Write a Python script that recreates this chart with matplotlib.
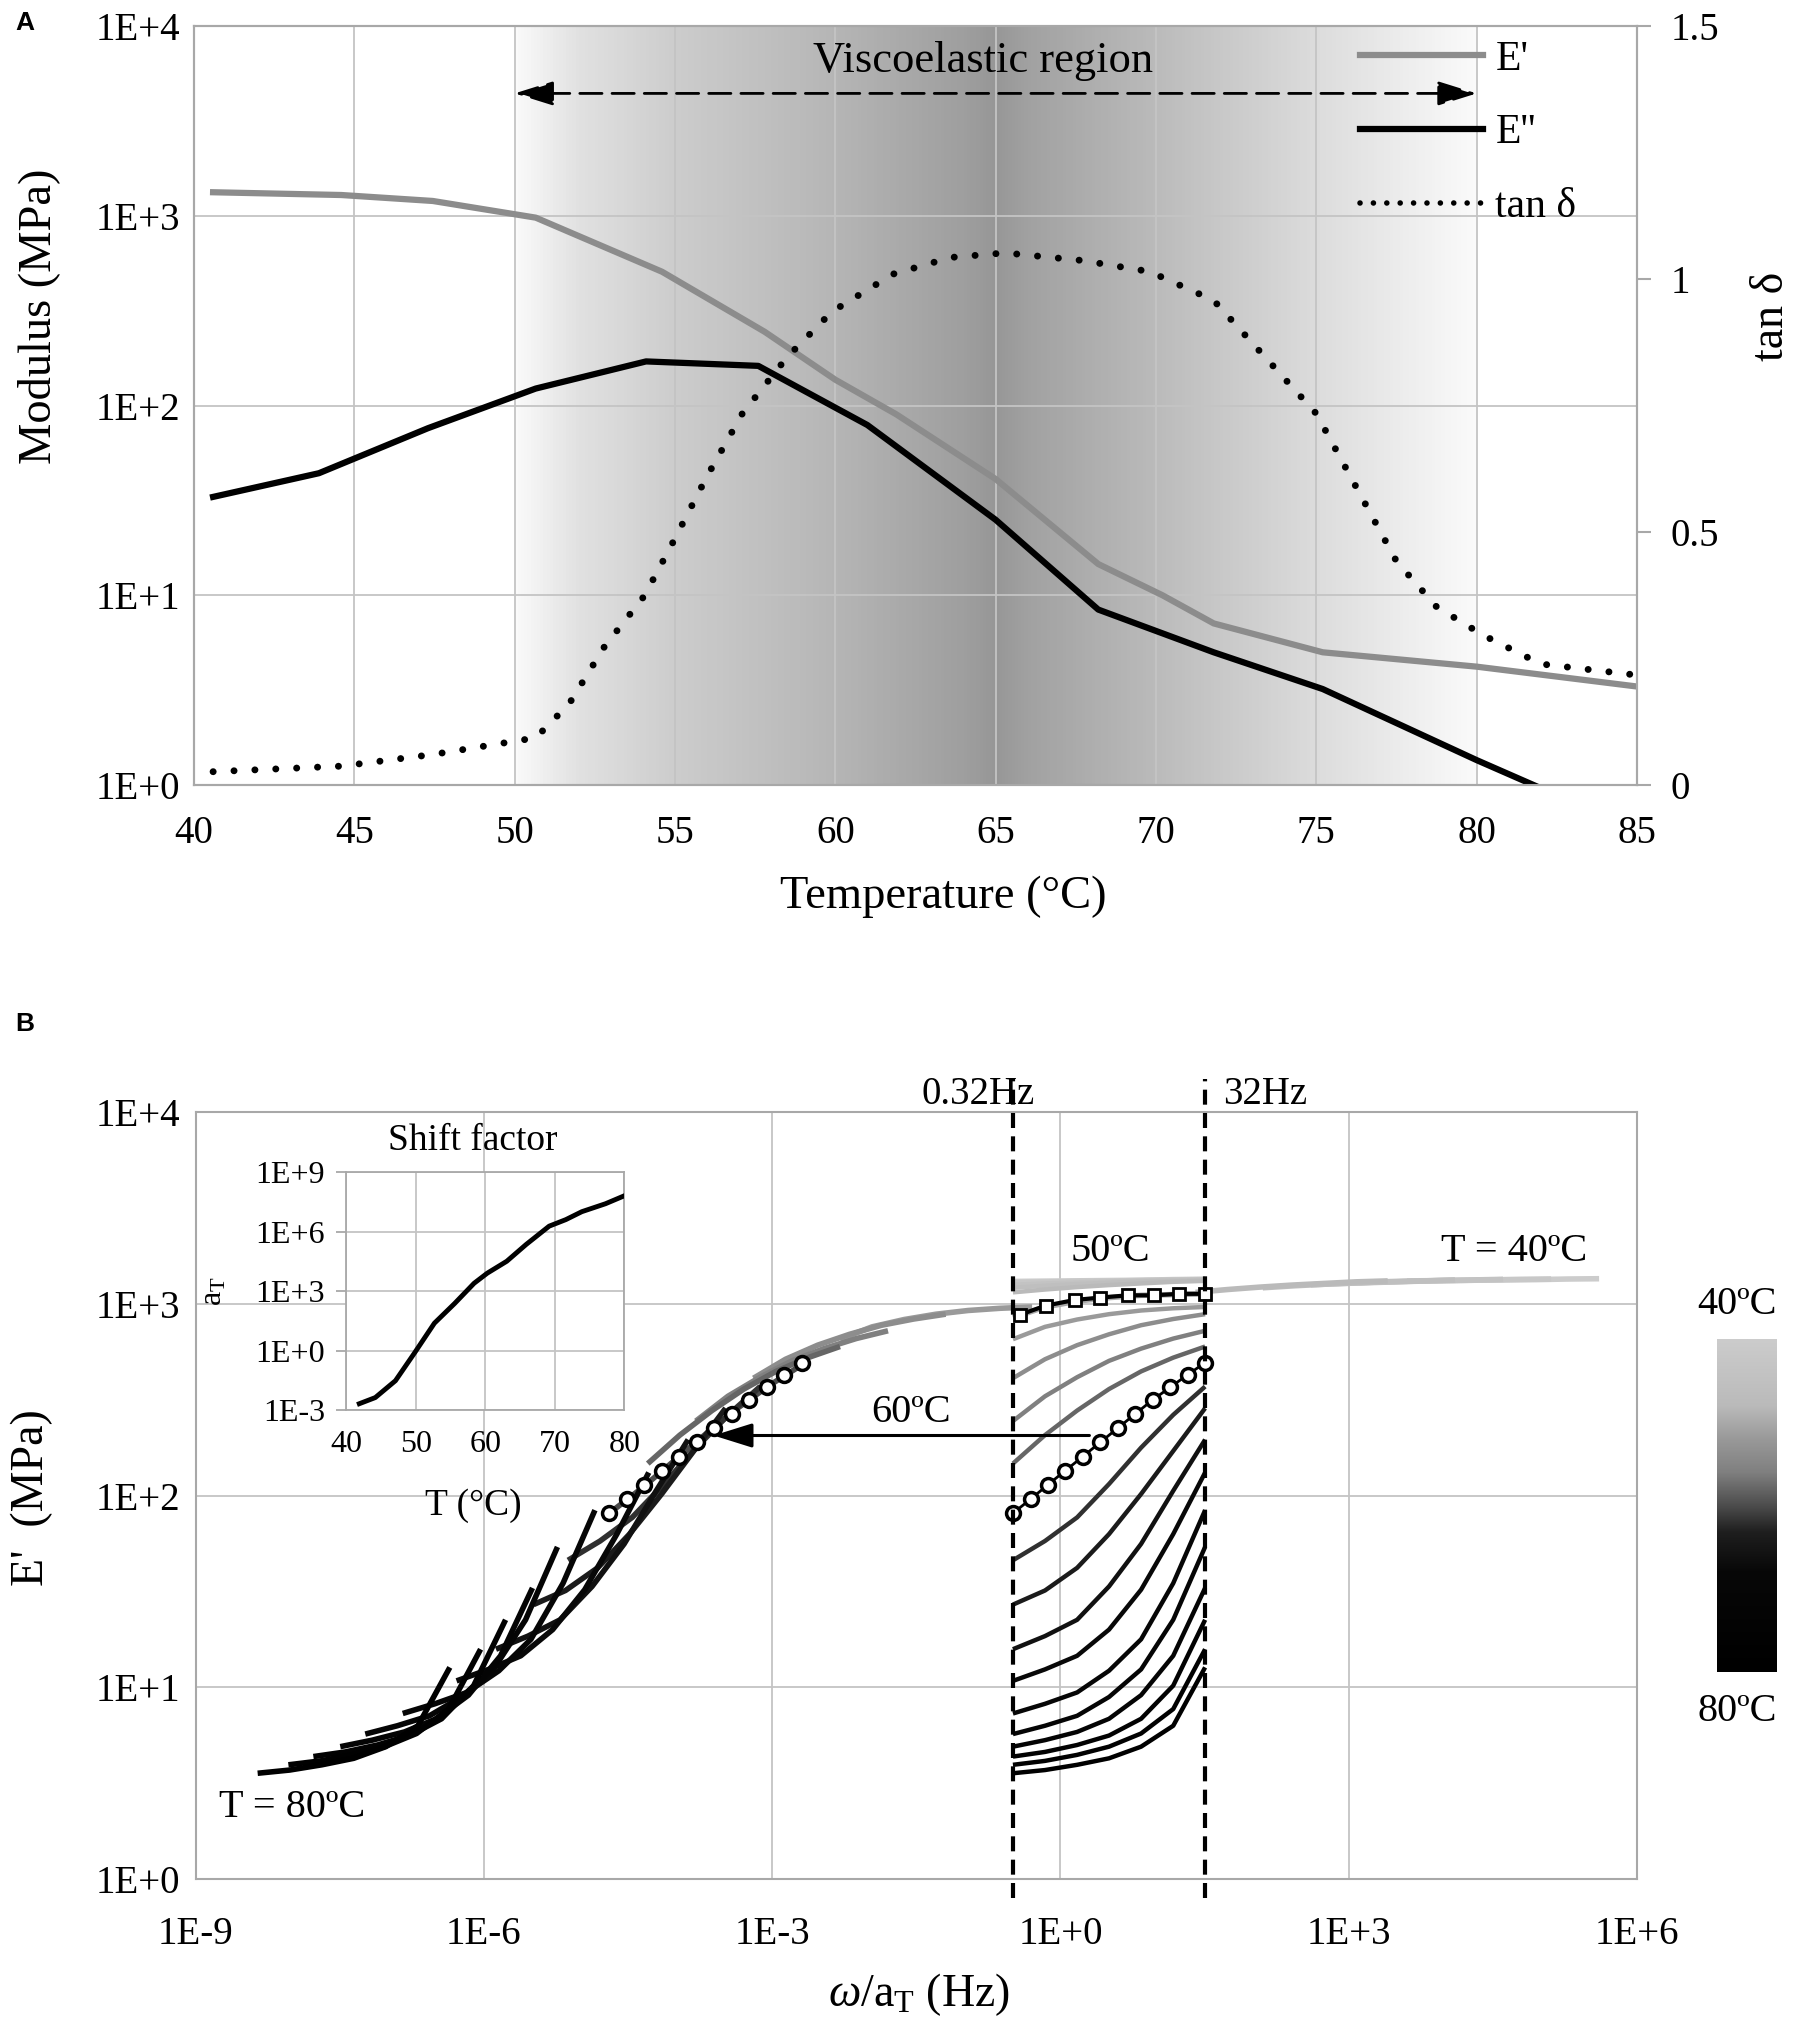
import numpy as np
import matplotlib
matplotlib.use('Agg')
import matplotlib.pyplot as plt
from matplotlib.colors import LinearSegmentedColormap
from matplotlib.lines import Line2D
from matplotlib.ticker import NullLocator

plt.rcParams['font.family'] = ['Liberation Serif', 'DejaVu Serif']
plt.rcParams['mathtext.fontset'] = 'custom'
plt.rcParams['mathtext.rm'] = 'Liberation Serif'
plt.rcParams['mathtext.it'] = 'Liberation Serif:italic'

# ---------------- Panel A data (DMA temperature sweep) ----------------
T_STORAGE = [40.6, 44.6, 47.45, 50.66, 54.6, 57.8, 60.0, 61.9, 65.0, 68.2, 70.2, 71.8, 75.2, 80.0, 85.0]
E_STORAGE = [1334, 1290, 1200, 980, 508, 245, 137, 90, 41, 14.6, 10.0, 7.1, 5.0, 4.2, 3.3]

T_LOSS = [40.6, 43.9, 47.3, 50.66, 54.1, 57.6, 61.0, 65.0, 68.2, 71.8, 75.2, 80.0, 82.0]
E_LOSS = [33, 44, 76, 123, 171, 162, 79, 25, 8.4, 5.0, 3.2, 1.35, 0.96]

T_TAN = [40.6, 44.6, 47.45, 50.66, 51.7, 52.8, 54.05, 54.9, 56.0, 57.1, 58.5, 59.9, 61.8,
         63.6, 65.3, 67.7, 69.8, 71.8, 73.4, 75.0, 76.25, 77.5, 78.75, 80.2, 82.0, 85.0]
TAN_DELTA = [0.026, 0.037, 0.06, 0.093, 0.16, 0.273, 0.374, 0.475, 0.61, 0.734, 0.846, 0.936, 1.01,
             1.043, 1.052, 1.037, 1.015, 0.958, 0.846, 0.734, 0.588, 0.442, 0.352, 0.296, 0.239, 0.217]

# shading of the viscoelastic region (temperature, gray level)
GRAD_T = [50, 52, 55, 60, 64, 65, 66, 70, 75, 80]
GRAD_GRAY = [0.98, 0.88, 0.80, 0.71, 0.62, 0.59, 0.63, 0.73, 0.86, 0.98]

# ---------------- Panel B data (frequency sweeps) ----------------
ISO_TEMPS = [40, 42, 44, 46, 48, 50, 52, 54, 56, 58, 60, 62, 64, 66, 68, 70, 72, 74, 76, 78, 80]
ISO_FREQ = [0.32, 0.69, 1.49, 3.2, 6.9, 14.9, 32]
ISO_E = [
    [1320, 1325, 1330, 1335, 1340, 1350, 1355],
    [1295, 1305, 1320, 1325, 1335, 1345, 1350],
    [1260, 1280, 1295, 1310, 1325, 1335, 1345],
    [1215, 1245, 1270, 1290, 1310, 1320, 1335],
    [1150, 1190, 1225, 1255, 1280, 1305, 1320],
    [850, 965, 1035, 1080, 1110, 1120, 1130],
    [655, 760, 830, 885, 925, 950, 965],
    [410, 515, 610, 695, 775, 835, 885],
    [245, 330, 415, 505, 585, 660, 725],
    [147, 207, 278, 360, 445, 525, 600],
    [81, 109, 151, 209, 286, 377, 480],
    [46, 58, 77, 115, 178, 264, 371],
    [27, 32, 42, 63, 102, 171, 286],
    [15.8, 18.5, 22.5, 33.6, 56, 106, 196],
    [10.8, 12.4, 14.6, 20.0, 32.3, 63, 132],
    [7.3, 8.2, 9.4, 12.2, 17.8, 34.9, 84],
    [5.7, 6.3, 7.1, 8.9, 12.4, 22.5, 54],
    [4.9, 5.3, 5.85, 6.85, 9.1, 14.6, 33],
    [4.35, 4.6, 5.0, 5.6, 6.85, 10.2, 22.5],
    [3.94, 4.13, 4.44, 4.9, 5.74, 7.7, 15.8],
    [3.56, 3.7, 3.94, 4.26, 4.9, 6.3, 12.7],
]
# log10 of the shift factor used to build the master curve
LOG_AT = [-4.1, -3.6, -3.1, -2.6, -1.9, 0.0, 1.8, 2.7, 3.3, 3.8, 4.2,
          4.63, 4.99, 5.38, 5.79, 6.35, 6.74, 7.0, 7.28, 7.54, 7.86]

# 50 C sweep (square markers) and 60 C sweep (circle markers)
SQ_FREQ = [0.38, 0.70, 1.41, 2.6, 5.0, 9.3, 17.3, 32]
SQ_E = [880, 980, 1050, 1080, 1110, 1110, 1130, 1130]
CIRC_FREQ = [0.32, 0.49, 0.74, 1.12, 1.71, 2.6, 3.94, 6.0, 9.1, 13.9, 21, 32]
CIRC_E = [81, 96, 114, 135, 160, 190, 225, 267, 316, 368, 427, 494]

# inset: shift factor vs temperature
INSET_T = [41.9, 44.2, 47.1, 49.9, 52.7, 55.6, 58.4, 60.3, 63.1, 65.9, 69.2, 71.6, 73.9, 77.3, 80.0]
INSET_LOG_AT = [-2.68, -2.37, -1.52, -0.09, 1.38, 2.37, 3.39, 3.9, 4.5, 5.35, 6.27, 6.6, 7.0, 7.4, 7.8]

CMAP = LinearSegmentedColormap.from_list(
    'temps', [(0.0, (0.80,) * 3), (0.2, (0.73,) * 3), (0.3, (0.60,) * 3), (0.4, (0.50,) * 3),
              (0.5, (0.30,) * 3), (0.58, (0.12,) * 3), (0.7, (0.03,) * 3), (1.0, (0.0,) * 3)])

GRID_C = '#c4c4c4'
SPINE_C = '#a8a8a8'

fig = plt.figure(figsize=(17.95, 20.28), dpi=100)

# ======================= Panel A =======================
axA = fig.add_axes([0.108, 0.613, 0.804, 0.374])
axA.set_xlim(40, 85)
axA.set_yscale('log')
axA.set_ylim(1, 1e4)

edges = np.linspace(50, 80, 301)
mids = 0.5 * (edges[:-1] + edges[1:])
shade = np.interp(mids, GRAD_T, GRAD_GRAY)[None, :]
axA.pcolormesh(edges, [1, 1e4], shade, cmap='gray', vmin=0, vmax=1,
               shading='flat', zorder=0.1, rasterized=True)

axA.set_xticks(range(40, 90, 5))
axA.set_yticks([1, 10, 100, 1000, 10000])
axA.set_yticklabels(['1E+0', '1E+1', '1E+2', '1E+3', '1E+4'])
axA.yaxis.set_minor_locator(NullLocator())
axA.tick_params(axis='both', length=0, labelsize=28)
axA.tick_params(axis='x', pad=22)
axA.tick_params(axis='y', pad=10)
axA.grid(True, color=GRID_C, lw=1.3)
for s in axA.spines.values():
    s.set_color(SPINE_C)
    s.set_linewidth(1.5)

axA.plot(T_STORAGE, E_STORAGE, color='#8c8c8c', lw=4.5, zorder=3)
axA.plot(T_LOSS, E_LOSS, color='k', lw=4.5, zorder=3)

axA.annotate('', xy=(50, 4430), xytext=(80, 4430),
             arrowprops=dict(arrowstyle='<|-|>, head_length=0.8, head_width=0.25',
                             color='k', lw=2, linestyle=(0, (8, 3.6)),
                             mutation_scale=30, shrinkA=0, shrinkB=0), zorder=4)
axA.text(64.6, 6600, 'Viscoelastic region', fontsize=32, ha='center', va='center', zorder=4)

ax2 = axA.twinx()
ax2.set_ylim(0, 1.5)
ax2.set_yticks([0, 0.5, 1, 1.5])
ax2.set_yticklabels(['0', '0.5', '1', '1.5'])
ax2.tick_params(axis='y', length=10, width=1.5, color=SPINE_C, labelsize=28, pad=14)
for s in ax2.spines.values():
    s.set_color(SPINE_C)
    s.set_linewidth(1.5)
ax2.plot(T_TAN, TAN_DELTA, color='k', lw=5, ls=(0, (0.01, 3)), dash_capstyle='round', zorder=3)

handles = [Line2D([], [], color='#8c8c8c', lw=4.5),
           Line2D([], [], color='k', lw=4.5),
           Line2D([], [], color='k', lw=4, ls=(0, (0.01, 2.4)), dash_capstyle='round')]
ax2.legend(handles, ["E'", "E''", 'tan δ'], loc='upper left', bbox_to_anchor=(0.808, 0.982),
           frameon=False, fontsize=30, handlelength=2.95, handletextpad=0.3,
           labelspacing=0.85, borderpad=0, borderaxespad=0)

fig.text(0.0084, 0.9887, 'A', family='Liberation Sans', weight='bold', fontsize=19, va='center')
fig.text(0.0217, 0.8442, 'Modulus (MPa)', rotation=90, fontsize=33.5, ha='center', va='center')
fig.text(0.5253, 0.5577, 'Temperature (°C)', fontsize=33.5, ha='center', va='center')
fig.text(0.9872, 0.8442, 'tan δ', rotation=90, fontsize=33, ha='center', va='center')

# ======================= Panel B =======================
axB = fig.add_axes([0.109, 0.0735, 0.803, 0.378])
axB.set_xscale('log')
axB.set_yscale('log')
axB.set_xlim(1e-9, 1e6)
axB.set_ylim(1, 1e4)
axB.set_xticks([1e-9, 1e-6, 1e-3, 1, 1e3, 1e6])
axB.set_xticklabels(['1E-9', '1E-6', '1E-3', '1E+0', '1E+3', '1E+6'])
axB.set_yticks([1, 10, 100, 1000, 10000])
axB.set_yticklabels(['1E+0', '1E+1', '1E+2', '1E+3', '1E+4'])
axB.xaxis.set_minor_locator(NullLocator())
axB.yaxis.set_minor_locator(NullLocator())
axB.tick_params(axis='both', length=0, labelsize=28)
axB.tick_params(axis='x', pad=27)
axB.tick_params(axis='y', pad=11)
axB.grid(True, color=GRID_C, lw=1.3)
for s in axB.spines.values():
    s.set_color(SPINE_C)
    s.set_linewidth(1.5)

freq = np.array(ISO_FREQ)
for T, row, lat in zip(ISO_TEMPS, ISO_E, LOG_AT):
    c = CMAP((T - 40) / 40)
    # master curve segment (shifted)
    axB.plot(freq / 10 ** lat, row, color=c, lw=4, solid_capstyle='butt', zorder=3)
    # measured sweep inside the test window
    if T not in (50, 60):
        axB.plot(freq, row, color=c, lw=3.2, solid_capstyle='butt', zorder=3)

lat60 = LOG_AT[ISO_TEMPS.index(60)]
axB.plot(SQ_FREQ, SQ_E, color='k', lw=3, marker='s', ms=9, mfc='white', mec='k', mew=2, zorder=5)
axB.plot(CIRC_FREQ, CIRC_E, color='k', lw=2, marker='o', ms=10, mfc='white', mec='k', mew=2.5, zorder=5)
axB.plot(np.array(CIRC_FREQ) / 10 ** lat60, CIRC_E, ls='none', marker='o', ms=10,
         mfc='white', mec='k', mew=2.5, zorder=5)

for fx in (0.32, 32):
    axB.plot([fx, fx], [0.8, 1.5e4], color='k', lw=3, ls=(0, (3.6, 2)), clip_on=False, zorder=6)

axB.annotate('', xy=(2.45e-4, 206), xytext=(2.0, 206),
             arrowprops=dict(arrowstyle='-|>, head_length=0.8, head_width=0.25',
                             color='k', lw=2.2, mutation_scale=30, shrinkA=0, shrinkB=0), zorder=4)

axB.text(0.14, 12400, '0.32Hz', fontsize=28, ha='center', va='center')
axB.text(135, 12400, '32Hz', fontsize=28, ha='center', va='center')
axB.text(3.3, 1870, '50ºC', fontsize=29, ha='center', va='center')
axB.text(5.2e4, 1870, 'T = 40ºC', fontsize=29, ha='center', va='center')
axB.text(0.028, 270, '60ºC', fontsize=29, ha='center', va='center')
axB.text(1e-8, 2.36, 'T = 80ºC', fontsize=29, ha='center', va='center')

fig.text(0.0084, 0.495, 'B', family='Liberation Sans', weight='bold', fontsize=19, va='center')
fig.text(0.0178, 0.2613, "E'  (MPa)", rotation=90, fontsize=33, ha='center', va='center')
fig.text(0.512, 0.0163, r'$\omega$/a$_\mathrm{T}$ (Hz)', fontsize=33, ha='center', va='center')

# inset: shift factor
axI = fig.add_axes([0.1928, 0.3047, 0.155, 0.1174])
axI.set_facecolor('white')
axI.set_yscale('log')
axI.set_xlim(40, 80)
axI.set_ylim(1e-3, 1e9)
axI.set_xticks([40, 50, 60, 70, 80])
axI.set_yticks([1e-3, 1, 1e3, 1e6, 1e9])
axI.set_yticklabels(['1E-3', '1E+0', '1E+3', '1E+6', '1E+9'])
axI.yaxis.set_minor_locator(NullLocator())
axI.tick_params(axis='y', length=7, width=1.3, color=SPINE_C, labelsize=23, pad=8)
axI.tick_params(axis='x', length=0, labelsize=23, pad=14)
axI.grid(True, color=GRID_C, lw=1.3)
for s in axI.spines.values():
    s.set_color(SPINE_C)
    s.set_linewidth(1.3)
axI.plot(INSET_T, 10 ** np.array(INSET_LOG_AT), color='k', lw=3.5, zorder=3)
fig.text(0.2635, 0.4374, 'Shift factor', fontsize=27, ha='center', va='center')
fig.text(0.2635, 0.2574, 'T (°C)', fontsize=27, ha='center', va='center')
fig.text(0.1192, 0.3634, r'a$_\mathrm{T}$', rotation=90, fontsize=23, ha='center', va='center')

# temperature colour bar
axC = fig.add_axes([0.9566, 0.1755, 0.033, 0.164])
axC.imshow(np.linspace(0, 1, 256)[:, None], aspect='auto', cmap=CMAP, origin='upper')
axC.axis('off')
fig.text(0.9677, 0.357, '40ºC', fontsize=29, ha='center', va='center')
fig.text(0.9677, 0.1563, '80ºC', fontsize=29, ha='center', va='center')

fig.savefig('out.png', dpi=100)
